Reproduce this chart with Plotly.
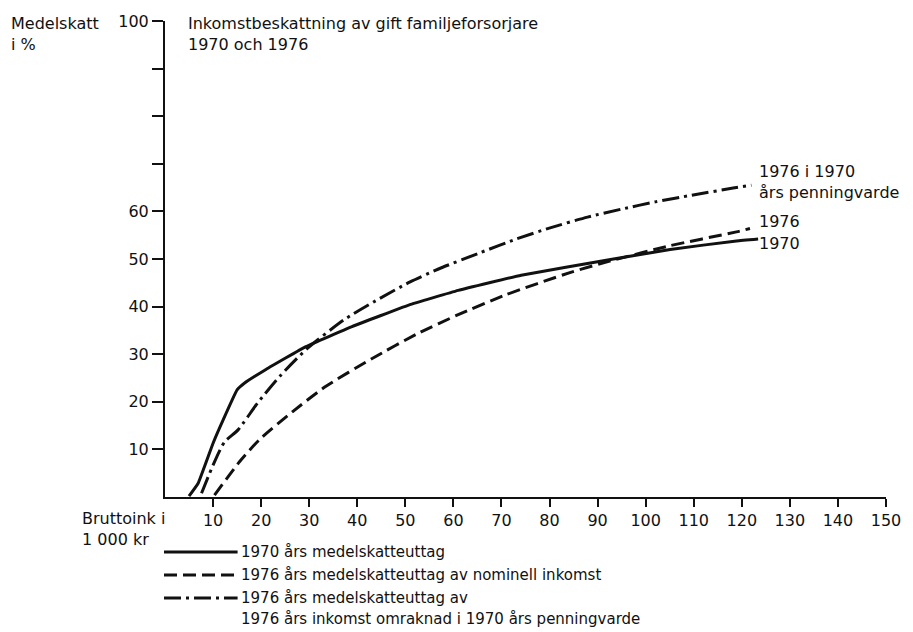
import plotly.graph_objects as go

# ---- data ----
x_1970 = [5.0, 6.9, 10.0, 12.1, 15.0, 16.5, 21.0, 29.3, 38.9, 50.7, 61.0, 74.1, 92.7, 105.1, 118.9, 123.4]
y_1970 = [0.2, 2.9, 11.3, 16.2, 22.5, 23.9, 26.8, 31.6, 35.8, 40.3, 43.4, 46.6, 49.9, 52.0, 53.8, 54.2]

x_1976_nom = [10.3, 15.5, 19.6, 26.5, 33.4, 43.1, 52.7, 61.0, 70.7, 84.4, 92.7, 105.1, 118.9, 121.7]
y_1976_nom = [0.4, 7.4, 12.0, 17.9, 23.2, 29.1, 34.4, 38.3, 42.4, 47.2, 49.6, 52.8, 55.7, 56.4]

x_1976_real = [7.6, 10.3, 12.4, 15.2, 19.3, 24.1, 29.6, 37.2, 43.8, 51.0, 56.9, 65.5, 73.1, 80.3, 87.9, 95.1, 102.0, 109.6, 118.2, 122.0]
y_1976_real = [0.8, 7.4, 11.6, 14.1, 19.8, 25.6, 31.2, 37.2, 41.2, 45.2, 47.9, 51.3, 54.2, 56.6, 58.8, 60.5, 62.0, 63.4, 64.9, 65.5]

x_ticks = [10, 20, 30, 40, 50, 60, 70, 80, 90, 100, 110, 120, 130, 140, 150]
y_ticks = [10, 20, 30, 40, 50, 60, 70, 80, 90, 100]
y_ticktext = ["10", "20", "30", "40", "50", "60", "", "", "", "100"]

series_names = [
    "1970 års medelskatteuttag",
    "1976 års medelskatteuttag av nominell inkomst",
    "1976 års medelskatteuttag av<br>1976 års inkomst omraknad i 1970 års penningvarde",
]
end_labels = ["1970", "1976", "1976 i 1970<br>års penningvarde"]

FONT = "DejaVu Sans, Verdana, sans-serif"
BLACK = "#111111"
DASH_NOM = "13px,6px"
DASH_REAL = "17px,5px,3px,5px"

fig = go.Figure()
fig.add_trace(go.Scatter(x=x_1970, y=y_1970, mode="lines", name=series_names[0],
                         line=dict(color=BLACK, width=3, shape="spline", smoothing=0.3)))
fig.add_trace(go.Scatter(x=x_1976_nom, y=y_1976_nom, mode="lines", name=series_names[1],
                         line=dict(color=BLACK, width=3, dash=DASH_NOM, shape="spline", smoothing=0.6)))
fig.add_trace(go.Scatter(x=x_1976_real, y=y_1976_real, mode="lines", name=series_names[2],
                         line=dict(color=BLACK, width=3, dash=DASH_REAL, shape="spline", smoothing=0.6)))

W, H = 913, 632
L, R, T, B = 165, 23, 21, 135
pw, ph = W - L - R, H - T - B


def px_x(p):
    return (p - L) / pw


def px_y(p):
    return (H - B - p) / ph


def txt(xp, yp, s, size=16):
    return dict(x=px_x(xp), y=px_y(yp), xref="paper", yref="paper", xanchor="left", yanchor="middle",
                text=s, showarrow=False, font=dict(size=size, color=BLACK, family=FONT))


annotations = [
    txt(8, 24, "Medelskatt"),
    txt(8, 44, "i %"),
    txt(186, 24, "Inkomstbeskattning av gift familjeforsorjare"),
    txt(186, 44, "1970 och 1976"),
    txt(80, 518, "Bruttoink i"),
    txt(80, 539, "1 000 kr"),
]

# end-of-line labels (y positions in data units)
end_y = [53.3, 57.8, 66.1]
for lbl, ylab in zip(end_labels, end_y):
    annotations.append(dict(x=123.2, y=ylab, xref="x", yref="y", xanchor="left", yanchor="middle",
                            text=lbl, showarrow=False, align="left",
                            font=dict(size=16, color=BLACK, family=FONT)))

# custom legend
leg_rows = [552, 575, 598]
leg_dash = ["solid", DASH_NOM, DASH_REAL]
shapes = []
for name, row, dsh in zip(series_names, leg_rows, leg_dash):
    shapes.append(dict(type="line", xref="paper", yref="paper", x0=px_x(164), x1=px_x(238),
                       y0=px_y(row), y1=px_y(row), line=dict(color=BLACK, width=3, dash=dsh)))
    for i, ln in enumerate(name.split("<br>")):
        annotations.append(txt(239, row + 21 * i, ln, size=15))

fig.update_layout(
    width=W, height=H,
    margin=dict(l=L, r=R, t=T, b=B, pad=0),
    paper_bgcolor="white", plot_bgcolor="white",
    showlegend=False,
    font=dict(family=FONT, size=16, color=BLACK),
    annotations=annotations,
    shapes=shapes,
    xaxis=dict(range=[0, 150], tickvals=x_ticks, ticktext=[str(v) for v in x_ticks],
               showgrid=False, zeroline=False, showline=True, linecolor=BLACK, linewidth=2,
               ticks="outside", ticklen=8, tickwidth=2, tickcolor=BLACK,
               tickfont=dict(size=16, color=BLACK, family=FONT)),
    yaxis=dict(range=[0, 100], tickvals=y_ticks, ticktext=y_ticktext,
               showgrid=False, zeroline=False, showline=True, linecolor=BLACK, linewidth=2,
               ticks="outside", ticklen=11, tickwidth=2, tickcolor=BLACK,
               tickfont=dict(size=16, color=BLACK, family=FONT)),
)

fig.write_html(
    "out.html",
    config={"displayModeBar": False},
    post_script="document.body.style.margin='0';document.body.style.overflow='hidden';",
)
